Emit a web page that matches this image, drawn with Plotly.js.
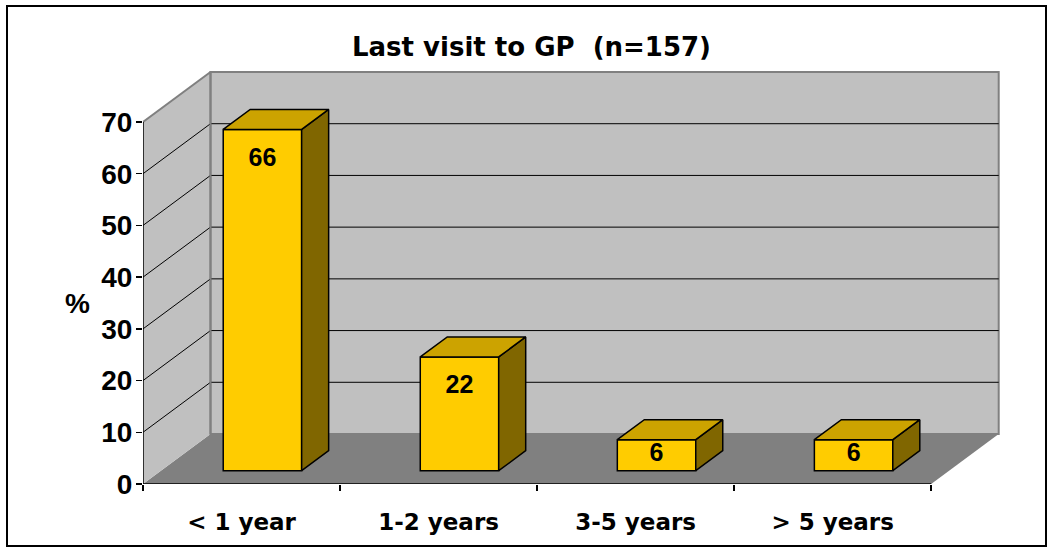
<!DOCTYPE html>
<html>
<head>
<meta charset="utf-8">
<script src="https://cdn.plot.ly/plotly-3.0.1.min.js"></script>
<style>html,body{margin:0;padding:0;background:#fff;}#chart{width:1048px;height:548px;}</style>
</head>
<body>
<div id="chart"></div>
<script>
// ---- data ----
const categories = ['< 1 year', '1-2 years', '3-5 years', '> 5 years'];
const values = [66, 22, 6, 6];
const yTickVals = [0, 10, 20, 30, 40, 50, 60, 70];
const gridVals = [10, 20, 30, 40, 50, 60];
const chartTitle = 'Last visit to GP\u00a0 (n=157)';
const yLabel = '%';

// ---- geometry (3D look) ----
const PXX = 197.05, PXY = 362 / 70;
const DX = 67.5 / PXX, DY = 50 / PXY;      // full depth offset in axis units
const F1 = 0.266, F2 = 0.666;               // bar front/back depth fraction
const BW = 0.398, XOFF = 0.015;
const YMAX = 70;
const X0 = -0.5, X1 = 3.5;

const traces = [];
const base = F1 * DY;
const cx = categories.map((c, i) => i + XOFF + F1 * DX);
traces.push({
  type: 'bar', x: cx, y: values, base: values.map(() => base), width: BW,
  marker: {color: '#FFCC00', line: {color: '#000', width: 1.5}},
  hoverinfo: 'skip'
});
const dd = (F2 - F1) * DX, dv = (F2 - F1) * DY;
values.forEach((v, i) => {
  const xl = cx[i] - BW / 2, xr = cx[i] + BW / 2, yt = base + v;
  traces.push({type: 'scatter', mode: 'lines', fill: 'toself', fillcolor: '#806600',
    x: [xr, xr, xr + dd, xr + dd, xr], y: [base, yt, yt + dv, base + dv, base],
    line: {color: '#000', width: 1.5}, hoverinfo: 'skip'});
  traces.push({type: 'scatter', mode: 'lines', fill: 'toself', fillcolor: '#CCA300',
    x: [xl, xr, xr + dd, xl + dd, xl], y: [yt, yt, yt + dv, yt + dv, yt],
    line: {color: '#000', width: 1.5}, hoverinfo: 'skip'});
});
traces.push({
  type: 'scatter', mode: 'text', x: cx,
  y: values.map(v => base + Math.max(v - 5.8, v / 2)),
  text: values.map(String), textposition: 'middle center',
  textfont: {family: 'Arial, "Liberation Sans", sans-serif', size: 25, color: '#000', weight: 'bold'},
  hoverinfo: 'skip'
});

const shapes = [];
shapes.push({type: 'path', layer: 'below', xref: 'x', yref: 'y',
  path: `M${X0},0 L${X1},0 L${X1 + DX},${DY} L${X0 + DX},${DY} Z`,
  fillcolor: '#808080', line: {width: 0}});
shapes.push({type: 'path', layer: 'below', xref: 'x', yref: 'y',
  path: `M${X0},0 L${X0},${YMAX} L${X0 + DX},${YMAX + DY} L${X0 + DX},${DY} Z`,
  fillcolor: '#C0C0C0', line: {width: 0}});
shapes.push({type: 'rect', layer: 'below', xref: 'x', yref: 'y',
  x0: X0 + DX, x1: X1 + DX, y0: DY, y1: YMAX + DY,
  fillcolor: '#C0C0C0', line: {color: '#808080', width: 2}});
gridVals.forEach(g => {
  shapes.push({type: 'line', layer: 'below', xref: 'x', yref: 'y',
    x0: X0 + DX, x1: X1 + DX, y0: g + DY, y1: g + DY, line: {color: '#000', width: 1}});
  shapes.push({type: 'line', layer: 'below', xref: 'x', yref: 'y',
    x0: X0, x1: X0 + DX, y0: g, y1: g + DY, line: {color: '#000', width: 1}});
});
shapes.push({type: 'line', layer: 'below', xref: 'x', yref: 'y',
  x0: X0, x1: X0 + DX, y0: YMAX, y1: YMAX + DY, line: {color: '#808080', width: 2}});
shapes.push({type: 'line', layer: 'below', xref: 'x', yref: 'y',
  x0: X0 + DX, x1: X0 + DX, y0: DY, y1: YMAX + DY, line: {color: '#808080', width: 2}});
shapes.push({type: 'line', xref: 'x', yref: 'y', x0: X0, x1: X1, y0: 0, y1: 0,
  line: {color: '#000', width: 1.5}});
shapes.push({type: 'line', xref: 'x', yref: 'y', x0: X0, x1: X0, y0: 0, y1: YMAX,
  line: {color: '#000', width: 1.5}});

// outer frame in paper coords
const L = 143, T = 71, W = 858, H = 413;
const px = p => (p - L) / W, py = p => (T + H - p) / H;
shapes.push({type: 'rect', xref: 'paper', yref: 'paper',
  x0: px(7), x1: px(1046), y0: py(6), y1: py(546), line: {color: '#000', width: 2}});

const xRange = [X0, X0 + W / PXX];
const layout = {
  width: 1048, height: 548,
  margin: {l: L, r: 1048 - L - W, t: T, b: 548 - T - H, pad: 0},
  paper_bgcolor: '#fff', plot_bgcolor: 'rgba(0,0,0,0)',
  showlegend: false,
  title: {text: chartTitle, x: 531.5 / 1048, xref: 'container', xanchor: 'center',
    y: 1 - 47 / 548, yref: 'container', yanchor: 'middle',
    font: {family: '"DejaVu Sans", sans-serif', size: 26, color: '#000', weight: 'bold'}},
  xaxis: {range: xRange, tickvals: [0, 1, 2, 3], ticktext: categories, ticks: '',
    showgrid: false, zeroline: false, showline: false, fixedrange: true,
    ticklabelstandoff: 22,
    tickfont: {family: '"DejaVu Sans", sans-serif', size: 23, color: '#000', weight: 'bold'}},
  xaxis2: {range: xRange, overlaying: 'x', anchor: 'y', side: 'bottom',
    tickvals: [-0.5, 0.5, 1.5, 2.5, 3.5], ticks: 'outside', ticklen: 6, tickwidth: 1.5,
    tickcolor: '#000', showticklabels: false, showgrid: false, zeroline: false, showline: false},
  yaxis: {range: [0, H / PXY], tickvals: yTickVals, ticks: 'outside', ticklen: 6,
    tickwidth: 1.5, tickcolor: '#000', showgrid: false, zeroline: false, showline: false,
    fixedrange: true, ticklabelstandoff: -2,
    tickfont: {family: 'Arial, "Liberation Sans", sans-serif', size: 28, color: '#000', weight: 'bold'}},
  annotations: [{text: yLabel, xref: 'paper', yref: 'y', x: px(77), y: 35,
    xanchor: 'center', yanchor: 'middle', showarrow: false,
    font: {family: 'Arial, "Liberation Sans", sans-serif', size: 28, color: '#000', weight: 'bold'}}],
  shapes: shapes
};
// invisible point so the boundary-tick axis (xaxis2) is drawn
traces.push({type: 'scatter', x: [X0], y: [0], xaxis: 'x2', yaxis: 'y', mode: 'markers',
  marker: {opacity: 0}, hoverinfo: 'skip'});

Plotly.newPlot('chart', traces, layout, {displayModeBar: false, staticPlot: true});
</script>
</body>
</html>
